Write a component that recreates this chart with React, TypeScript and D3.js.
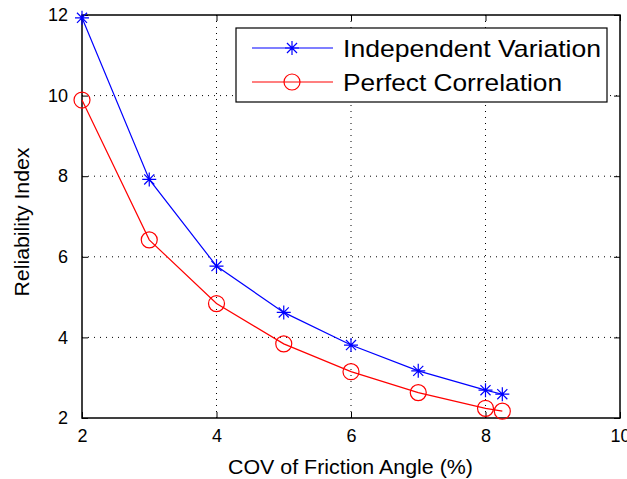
import React, { useEffect, useRef } from "react";
import * as d3 from "d3";

const cov = [2, 3, 4, 5, 6, 7, 8, 8.25];
const independent = [11.93, 7.92, 5.77, 4.62, 3.81, 3.17, 2.69, 2.59];
const perfect = [9.89, 6.42, 4.84, 3.84, 3.15, 2.63, 2.24, 2.17];
const xTicks = [2, 4, 6, 8, 10];
const yTicks = [2, 4, 6, 8, 10, 12];
const seriesNames = ["Independent Variation", "Perfect Correlation"];

const W = 627;
const H = 479;

function drawChart(container: SVGSVGElement) {
  const svg = d3.select(container);
  svg.selectAll("*").remove();

  const margin = { top: 15, right: 7, bottom: 61, left: 82 };
  const width = W - margin.left - margin.right;
  const height = H - margin.top - margin.bottom;

  const x = d3.scaleLinear().domain([2, 10]).range([0, width]);
  const y = d3.scaleLinear().domain([2, 12]).range([height, 0]);

  const g = svg
    .append("g")
    .attr("transform", `translate(${margin.left},${margin.top})`);

  // dotted grid
  g.selectAll(".vgrid")
    .data(xTicks.slice(1, -1))
    .enter()
    .append("line")
    .attr("x1", (d) => x(d))
    .attr("x2", (d) => x(d))
    .attr("y1", 0)
    .attr("y2", height)
    .attr("stroke", "#000")
    .attr("stroke-width", 1)
    .attr("stroke-dasharray", "1,5");

  g.selectAll(".hgrid")
    .data(yTicks.slice(1, -1))
    .enter()
    .append("line")
    .attr("x1", 0)
    .attr("x2", width)
    .attr("y1", (d) => y(d))
    .attr("y2", (d) => y(d))
    .attr("stroke", "#000")
    .attr("stroke-width", 1)
    .attr("stroke-dasharray", "1,5");

  // axes (ticks pointing inward on all sides)
  const font = "Liberation Sans, Arial, sans-serif";
  const styleAxis = (sel: any) => {
    sel.select(".domain").remove();
    sel.selectAll("line").attr("stroke", "#000");
    sel
      .selectAll("text")
      .attr("fill", "#000")
      .style("font-size", "18px")
      .style("font-family", font);
  };

  g.append("g")
    .attr("transform", `translate(0,${height})`)
    .call(d3.axisBottom(x).tickValues(xTicks).tickSize(-6).tickPadding(11))
    .call(styleAxis);
  g.append("g")
    .call(d3.axisLeft(y).tickValues(yTicks).tickSize(-6).tickPadding(14))
    .call(styleAxis);
  g.append("g")
    .call(d3.axisTop(x).tickValues(xTicks).tickSize(-6).tickFormat(() => ""))
    .call(styleAxis);
  g.append("g")
    .attr("transform", `translate(${width},0)`)
    .call(d3.axisRight(y).tickValues(yTicks).tickSize(-6).tickFormat(() => ""))
    .call(styleAxis);

  g.append("rect")
    .attr("width", width)
    .attr("height", height)
    .attr("fill", "none")
    .attr("stroke", "#000")
    .attr("stroke-width", 1.5);

  const line = d3
    .line<number>()
    .x((_, i) => x(cov[i]))
    .y((d) => y(d));

  const starPath = (s: number) =>
    `M${-s},0H${s}M0,${-s}V${s}M${-s * 0.72},${-s * 0.72}L${s * 0.72},${s * 0.72}M${-s * 0.72},${s * 0.72}L${s * 0.72},${-s * 0.72}`;

  // Independent variation
  g.append("path")
    .datum(independent)
    .attr("fill", "none")
    .attr("stroke", "#0000ff")
    .attr("stroke-width", 1.2)
    .attr("d", line);
  g.selectAll(".star")
    .data(independent)
    .enter()
    .append("path")
    .attr("transform", (d, i) => `translate(${x(cov[i])},${y(d)})`)
    .attr("d", starPath(7))
    .attr("stroke", "#0000ff")
    .attr("stroke-width", 1.2)
    .attr("fill", "none");

  // Perfect correlation
  g.append("path")
    .datum(perfect)
    .attr("fill", "none")
    .attr("stroke", "#ff0000")
    .attr("stroke-width", 1.2)
    .attr("d", line);
  g.selectAll(".circ")
    .data(perfect)
    .enter()
    .append("circle")
    .attr("cx", (d, i) => x(cov[i]))
    .attr("cy", (d) => y(d))
    .attr("r", 8)
    .attr("stroke", "#ff0000")
    .attr("stroke-width", 1.2)
    .attr("fill", "none");

  // axis labels
  svg
    .append("text")
    .attr("x", 228)
    .attr("y", 474)
    .attr("textLength", 245)
    .attr("lengthAdjust", "spacingAndGlyphs")
    .style("font-family", font)
    .style("font-size", "21px")
    .text("COV of Friction Angle (%)");

  svg
    .append("text")
    .attr("transform", `translate(29,222) rotate(-90)`)
    .attr("text-anchor", "middle")
    .attr("textLength", 149)
    .attr("lengthAdjust", "spacingAndGlyphs")
    .style("font-family", font)
    .style("font-size", "20px")
    .text("Reliability Index");

  // legend
  const lg = svg.append("g").attr("transform", "translate(236,28)");
  lg.append("rect")
    .attr("width", 371)
    .attr("height", 74)
    .attr("fill", "#fff")
    .attr("stroke", "#000")
    .attr("stroke-width", 1.2);

  const colors = ["#0000ff", "#ff0000"];
  const textLengths = [258, 219];
  seriesNames.forEach((name, i) => {
    const cy = 20 + i * 34;
    lg.append("line")
      .attr("x1", 16)
      .attr("x2", 97)
      .attr("y1", cy)
      .attr("y2", cy)
      .attr("stroke", colors[i])
      .attr("stroke-width", 1.2);
    if (i === 0) {
      lg.append("path")
        .attr("transform", `translate(56,${cy})`)
        .attr("d", starPath(7))
        .attr("stroke", colors[i])
        .attr("stroke-width", 1.2)
        .attr("fill", "none");
    } else {
      lg.append("circle")
        .attr("cx", 56)
        .attr("cy", cy)
        .attr("r", 8)
        .attr("stroke", colors[i])
        .attr("stroke-width", 1.2)
        .attr("fill", "none");
    }
    lg.append("text")
      .attr("x", 107)
      .attr("y", cy + 9)
      .attr("textLength", textLengths[i])
      .attr("lengthAdjust", "spacingAndGlyphs")
      .style("font-family", font)
      .style("font-size", "24px")
      .text(name);
  });
}

export default function App() {
  const ref = useRef<SVGSVGElement>(null);
  useEffect(() => {
    if (ref.current) drawChart(ref.current);
  }, []);
  return (
    <svg
      ref={ref}
      width={W}
      height={H}
      style={{ position: "absolute", left: 0, top: 0, background: "#fff" }}
    />
  );
}
